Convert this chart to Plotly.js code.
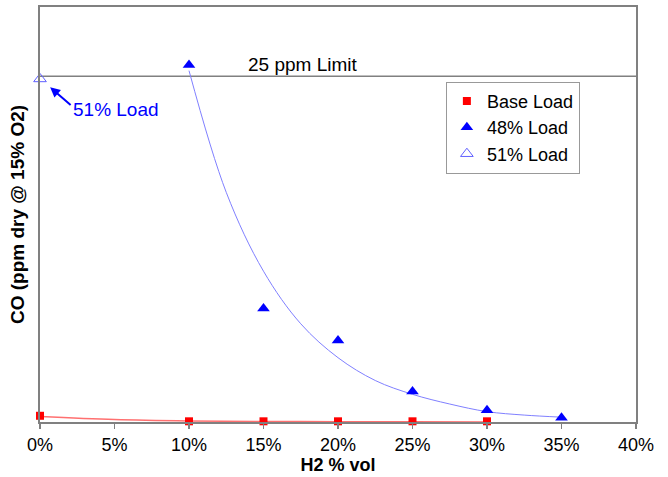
<!DOCTYPE html>
<html><head><meta charset="utf-8">
<script src="https://cdn.plot.ly/plotly-3.0.1.min.js"></script>
<style>body{margin:0;background:#fff}#chart{width:668px;height:477px}</style>
</head><body><div id="chart"></div>
<script>
// Data (x: H2 volume fraction, y: CO ppm)
const baseX = [0.00, 0.10, 0.15, 0.20, 0.25, 0.30];
const baseY = [0.45, 0.05, 0.05, 0.05, 0.05, 0.05];
const load48X = [0.10, 0.15, 0.20, 0.25, 0.30, 0.35];
const load48Y = [25.8, 8.2, 5.9, 2.2, 0.85, 0.3];
const load51X = [0.00];
const load51Y = [24.8];
// Trendlines
const trend48X = [0.10, 0.125, 0.15, 0.175, 0.20, 0.225, 0.25, 0.275, 0.30, 0.325, 0.35];
const trend48Y = [25.4, 16.6, 10.9, 7.1, 4.65, 3.0, 2.0, 1.3, 0.75, 0.5, 0.35];
const trendBaseX = [0.00, 0.05, 0.10, 0.15, 0.20, 0.25, 0.30];
const trendBaseY = [0.40, 0.18, 0.08, 0.04, 0.02, 0.01, 0.0];
const limitValue = 25;
const xTicks = [0, 0.05, 0.10, 0.15, 0.20, 0.25, 0.30, 0.35, 0.40];
const xTickText = ['0%','5%','10%','15%','20%','25%','30%','35%','40%'];

const font = 'Arial, "Liberation Sans", sans-serif';
const traces = [
  {x: trendBaseX, y: trendBaseY, mode: 'lines', line: {color: '#ff7070', width: 1.5, shape: 'spline'}, showlegend: false, hoverinfo: 'skip'},
  {x: trend48X, y: trend48Y, mode: 'lines', line: {color: '#8080ff', width: 1, shape: 'spline'}, showlegend: false, hoverinfo: 'skip'},
  {x: baseX, y: baseY, mode: 'markers', name: 'Base Load', cliponaxis: false,
   marker: {symbol: 'square', color: '#ff0000', size: 8}},
  {x: load48X, y: load48Y, mode: 'markers', name: '48% Load', cliponaxis: false,
   marker: {symbol: 'triangle-up', color: '#0000ff', size: 11}},
  {x: load51X, y: load51Y, mode: 'markers', name: '51% Load', cliponaxis: false,
   marker: {symbol: 'triangle-up-open', color: '#6060ff', size: 11, line: {width: 1}}}
];

const layout = {
  width: 668, height: 477,
  margin: {l: 40, r: 32, t: 7, b: 55},
  paper_bgcolor: '#fff', plot_bgcolor: '#fff',
  font: {family: font, size: 18, color: '#000'},
  showlegend: true,
  legend: {x: 0.681, y: 0.82, xanchor: 'left', yanchor: 'top',
    bgcolor: '#fff', bordercolor: '#999', borderwidth: 1,
    font: {family: font, size: 18, color: '#000'}, tracegroupgap: 0},
  xaxis: {range: [0, 0.40], tickvals: xTicks, ticktext: xTickText,
    showgrid: false, zeroline: false, showline: true, linecolor: '#808080', linewidth: 2,
    mirror: true, ticks: 'outside', ticklen: 5, tickcolor: '#808080', tickwidth: 1.5,
    tickfont: {family: font, size: 18, color: '#000'},
    title: {text: '<b>H2 % vol</b>', font: {family: font, size: 18, color: '#000'}, standoff: 2}},
  yaxis: {range: [0, 30], showticklabels: false, ticks: '',
    showgrid: false, zeroline: false, showline: true, linecolor: '#808080', linewidth: 2, mirror: true,
    title: {text: '<b>CO (ppm dry @ 15% O2)</b>', font: {family: font, size: 19, color: '#000'}, standoff: 8}},
  shapes: [
    {type: 'line', xref: 'paper', x0: 0, x1: 1, yref: 'y', y0: limitValue, y1: limitValue,
     line: {color: '#808080', width: 1.5}, layer: 'below'}
  ],
  annotations: [
    {xref: 'x', yref: 'y', x: 0.1765, y: limitValue, text: '25 ppm Limit', showarrow: false,
     yanchor: 'bottom', yshift: -1, font: {family: font, size: 19, color: '#000'}},
    {xref: 'x', yref: 'y', x: 0.0068, y: 24.2, text: '', showarrow: true, axref: 'pixel', ayref: 'pixel',
     ax: 22, ay: 19, arrowhead: 2, arrowsize: 1, arrowwidth: 2, arrowcolor: '#0000ff', standoff: 0},
    {xref: 'x', yref: 'y', x: 0.0205, y: 22.6, text: '51% Load', showarrow: false, xanchor: 'left',
     font: {family: font, size: 19, color: '#0000ff'}}
  ]
};
Plotly.newPlot('chart', traces, layout, {displayModeBar: false, staticPlot: true});
</script></body></html>
